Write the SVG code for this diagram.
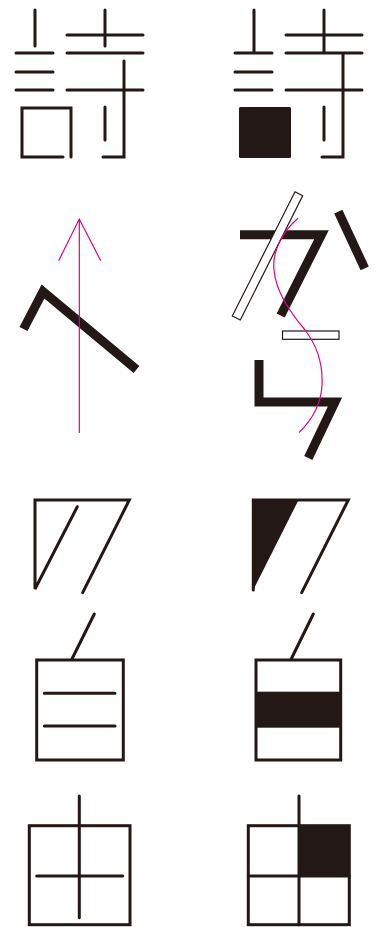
<svg xmlns="http://www.w3.org/2000/svg" width="382" height="927" viewBox="0 0 382 927">
<style>
.ln{fill:none;stroke:#231815;stroke-width:3;stroke-linecap:round;stroke-linejoin:miter}
.th{fill:none;stroke:#231815;stroke-width:9;stroke-linecap:butt;stroke-linejoin:miter}
.fl{fill:#231815;stroke:none}
.ol{fill:#fff;stroke:#231815;stroke-width:1.2}
.mg{fill:none;stroke:#e4007f;stroke-width:1.2}
</style>
<rect width="382" height="927" fill="#fff"/>
<g id="shi-left">
<path class="ln" d="M35,10V46M16,53H53M16,72H53M16,90H53M63,157H22V108H71V157M67,35H143M67,53H143M67,90H143M105,10V46M124,61V157H103M105,107V140"/>
</g>
<g id="shi-right">
<path class="ln" d="M254,10V53M235,53H272M235,72H272M235,90H272M286,35H362M286,53H362M286,90H362M324,10V53M343,53V157H322M324,107V140"/>
<rect class="fl" x="239" y="107" width="52" height="51" rx="1.5"/>
</g>
<g id="he">
<path class="th" d="M23.5,329L43,291.5L136.5,369.5"/>
<path class="mg" d="M79.3,219V433M58.7,260.7L79.3,219L100.7,260.7"/>
</g>
<g id="kana">
<path class="th" d="M240,234.7H321.5L280.7,315.5"/>
<path class="th" d="M338.3,211.7L364.7,268.3"/>
<path class="th" d="M259,360V402H335L308.3,458"/>
<polygon class="ol" points="295,191.7 302.7,195.7 240.3,320 232.3,316"/>
<rect class="ol" x="282.5" y="331" width="56.5" height="8.3"/>
<path class="mg" d="M298,218.3C282,232 272,252 274,270C276,292 290,312 305,330C318,347 323,365 322,385C321,405 312,420 299,432.5"/>
</g>
<g id="tri-left">
<path class="ln" d="M77.3,506.7L35,589V500H129.3L82.7,592.7"/>
</g>
<g id="tri-right">
<polygon class="fl" points="253.3,500 298.5,500 253.3,590"/>
<path class="ln" d="M253.3,590V500H348.3L301.7,592.7"/>
</g>
<g id="box-left">
<path class="ln" d="M94.3,614L71.7,659.5"/>
<rect class="ln" x="36.7" y="660" width="86.6" height="100"/>
<path class="ln" d="M44.3,693.3H115M44.3,726H115"/>
</g>
<g id="box-right">
<path class="ln" d="M313.3,614L291,659.5"/>
<rect class="fl" x="256" y="691.7" width="84.7" height="36"/>
<rect class="ln" x="256" y="660" width="84.7" height="100"/>
</g>
<g id="grid-left">
<rect class="ln" x="29.3" y="825.7" width="100.7" height="99"/>
<path class="ln" d="M79.3,796V917.7M36.7,876H122.7"/>
</g>
<g id="grid-right">
<rect class="fl" x="299" y="825.7" width="50.3" height="50.3"/>
<rect class="ln" x="248.3" y="825.7" width="101" height="99"/>
<path class="ln" d="M299,796V924.7M248.3,876H349.3"/>
</g>
</svg>
